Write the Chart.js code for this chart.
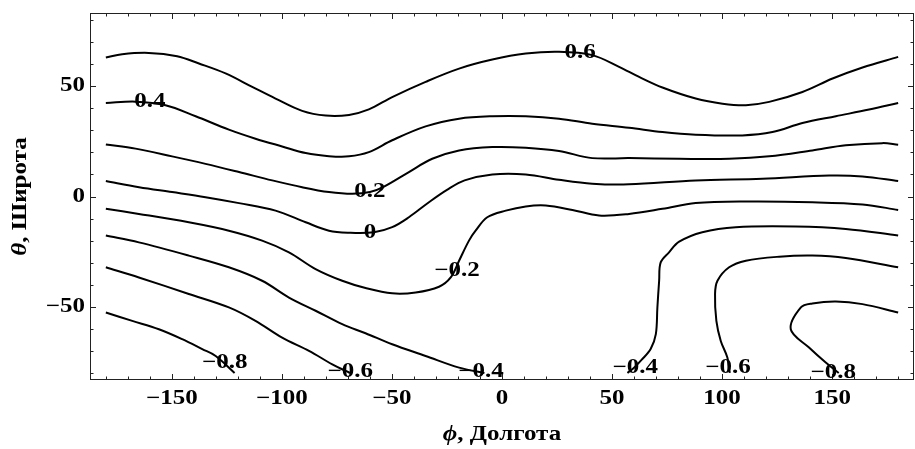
<!DOCTYPE html>
<html>
<head>
<meta charset="utf-8">
<script src="https://cdn.jsdelivr.net/npm/chart.js@4/dist/chart.umd.min.js"></script>
<style>
    html, body { margin: 0; background: #fff; }
    #wrap { width: 915px; height: 449px; }
</style>
</head>
<body>
<div id="wrap"><canvas id="contourChart"></canvas></div>
<script>
// tick values
const xTicks = [-150, -100, -50, 0, 50, 100, 150];
const yTicks = [-50, 0, 50];
const minorStep = 10;

// contour lines [phi, theta]
const level06 = [[-180, 63.0], [-172.6, 64.5], [-160.5, 65.1], [-147.6, 63.6], [-137.7, 60.3], [-125.6, 55.8],
    [-113.5, 49.7], [-102.9, 44.4], [-90.8, 38.8], [-80.1, 36.7], [-69.5, 37.0], [-60.5, 39.5], [-49.9, 45.1],
    [-34.7, 52.0], [-19.5, 58.0], [-4.4, 62.1], [10.8, 64.8], [25.9, 65.6], [41, 64.1], [53.2, 58.8],
    [62.3, 54.2], [72.9, 49.4], [88, 44.4], [100.2, 42.1], [110.8, 41.4], [121.4, 42.9], [136.5, 47.4],
    [150.2, 53.5], [163.8, 58.5], [180, 63.3]];
const level04 = [[-180, 42.4], [-166.5, 43.0], [-152.9, 41.4], [-139.2, 36.4], [-124.1, 30.3], [-112, 26.2],
    [-99.9, 22.7], [-89.2, 19.7], [-78.6, 18.3], [-69.5, 18.2], [-60.5, 20.1], [-49.9, 25.5], [-34.7, 31.8],
    [-19.5, 35.3], [-4.4, 36.4], [10.8, 36.4], [25.9, 35.3], [41, 33.0], [57.7, 31.2], [72.9, 29.2],
    [88, 28.0], [109.2, 27.7], [122.9, 29.2], [136.5, 33.3], [151.7, 36.4], [166.8, 39.4], [180, 42.4]];
const level02 = [[-180, 23.6], [-166.5, 21.7], [-149.9, 18.2], [-134.7, 14.8], [-119.5, 11.1], [-104.4, 7.3],
    [-90.8, 4.2], [-78.6, 2.0], [-68, 1.2], [-60, 2.0], [-53.6, 4.5], [-42.3, 11.1], [-31.7, 17.1],
    [-19.5, 20.9], [-4.4, 22.4], [10.8, 22.1], [25.9, 20.6], [41, 17.4], [57.7, 17.4], [80.5, 17.1],
    [103.2, 17.1], [121.4, 18.2], [141, 20.9], [156.2, 23.2], [172.9, 24.2], [180, 23.5]];
const level00 = [[-180, 7.0], [-164.9, 4.2], [-149.9, 2.0], [-134.7, -0.3], [-119.5, -3.0], [-102.9, -6.4],
    [-89.2, -11.7], [-78.6, -15.5], [-69.5, -16.4], [-58.2, -16.2], [-49.9, -13.9], [-42.3, -9.4],
    [-33.2, -2.6], [-25, 3.0], [-17, 7.3], [-4.4, 10.0], [10.8, 10.0], [25.9, 7.6],
    [41, 5.8], [57.7, 5.5], [88, 7.3], [118.3, 8.0], [148.6, 9.5], [163.8, 9.1], [180, 7.0]];
const levelM02 = [[-180, -5.6], [-165, -7.9], [-142.3, -11.7], [-124.1, -15.5], [-109, -20], [-96.8, -25.3],
    [-84.7, -32.9], [-72.6, -38.2], [-62, -41.5], [-49.9, -43.9], [-39.2, -43.5], [-28.6, -40.9],
    [-23.3, -36.7], [-19.5, -29.1], [-15, -20], [-12, -15.5], [-6.7, -9.4], [1.7, -6.4], [10.8, -4.5],
    [19.9, -4.1], [32, -6.1], [44.1, -8.6], [57.7, -7.9], [72.9, -5.6], [88, -3.0], [110.8, -2.3],
    [141, -2.6], [163.8, -3.6], [180, -6.1]];
const levelM04a = [[-180, -17.7], [-165, -20.8], [-142.3, -26.8], [-124.1, -32.1], [-109, -38.2],
    [-96.8, -45.8], [-84.7, -51.8], [-72.6, -57.9], [-62, -62], [-49.9, -67], [-34.7, -72.3],
    [-19.5, -77.6], [-8, -80]];
const levelM04b = [[57, -80], [60, -77.6], [63.5, -74], [67.6, -69], [69.9, -62.4], [70.6, -50.3],
    [71.4, -38.2], [72.1, -29.9], [75.9, -25.3], [80.5, -20.5], [91, -16.2], [106.2, -13.9],
    [133.5, -13.6], [156.2, -14.7], [180, -17.7]];
const levelM06a = [[-180, -32.1], [-165, -36.7], [-142.3, -44.2], [-124.1, -50.3], [-112, -56.4],
    [-99.9, -64], [-87.7, -70], [-77.1, -76.1], [-71, -79.1], [-69, -80]];
const levelM06b = [[103.5, -80], [102.4, -73], [99.4, -65.5], [97.4, -56.4], [96.8, -44.2], [97.9, -38.2],
    [103.2, -32.1], [110.8, -29.1], [125.9, -27.3], [141, -26.8], [156.2, -27.9], [180, -32.1]];
const levelM08a = [[-180, -52.6], [-168, -56.4], [-155.9, -60.2], [-145.3, -64.7], [-136.2, -69.2],
    [-130.1, -72.3], [-121.5, -80]];
const levelM08b = [[153, -80], [147.1, -75.3], [139.5, -68.5], [131.2, -60.2], [135.8, -50.3], [141, -48.5],
    [151.7, -47.6], [163.8, -48.8], [180, -52.6]];

const contourPieces = [level06, level04, level02, level00, levelM02, levelM04a, levelM04b,
    levelM06a, levelM06b, levelM08a, levelM08b];

// contour labels
const labelTexts = ["0.6", "0.4", "0.2", "0", "\u22120.2", "\u22120.4", "\u22120.4", "\u22120.6", "\u22120.6", "\u22120.8", "\u22120.8"];
const labelPhi = [35.5, -160, -60, -60, -20.5, -9.5, 60.5, -69, 102.7, -126, 150.5];
const labelTheta = [65, 42.7, 2, -16.6, -33.5, -79.6, -77.8, -79.6, -77.7, -75.5, -80];

const FONT = "bold 20px 'Liberation Serif', 'Times New Roman', serif";
const FONT_IT = "italic bold 20px 'Liberation Serif', 'Times New Roman', serif";
const STRETCH = 1.25;

function fmt(v) {
    return v < 0 ? "\u2212" + Math.abs(v) : String(v);
}

function wideText(ctx, text, x, y, align) {
    ctx.save();
    ctx.font = FONT;
    ctx.translate(x, y);
    ctx.scale(STRETCH, 1);
    ctx.textAlign = align;
    ctx.textBaseline = "middle";
    ctx.fillText(text, 0, 0);
    ctx.restore();
}

// italic symbol + bold text, centred on (0,0) of current transform
function axisTitle(ctx, symbol, rest) {
    ctx.font = FONT_IT;
    const w1 = ctx.measureText(symbol).width;
    ctx.font = FONT;
    const w2 = ctx.measureText(rest).width;
    const start = -(w1 + w2) / 2;
    ctx.textAlign = "left";
    ctx.textBaseline = "alphabetic";
    ctx.font = FONT_IT;
    ctx.fillText(symbol, start, 0);
    ctx.font = FONT;
    ctx.fillText(rest, start + w1, 0);
}

const frameTicks = {
    id: "frameTicks",
    beforeDatasetsDraw(chart) {
        const { ctx, chartArea: a, scales: { x, y } } = chart;
        ctx.save();
        ctx.strokeStyle = "#222";
        ctx.lineWidth = 1;
        ctx.strokeRect(a.left + 0.5, a.top + 0.5, a.right - a.left - 1, a.bottom - a.top - 1);

        ctx.beginPath();
        for (let v = -180; v <= 180; v += minorStep) {
            const px = Math.round(x.getPixelForValue(v)) + 0.5;
            const len = v % 50 === 0 ? 6 : 3.5;
            ctx.moveTo(px, a.bottom);
            ctx.lineTo(px, a.bottom - len);
            ctx.moveTo(px, a.top);
            ctx.lineTo(px, a.top + len);
        }
        for (let v = -80; v <= 80; v += minorStep) {
            const py = Math.round(y.getPixelForValue(v)) + 0.5;
            const len = v % 50 === 0 ? 6 : 3.5;
            ctx.moveTo(a.left, py);
            ctx.lineTo(a.left + len, py);
            ctx.moveTo(a.right, py);
            ctx.lineTo(a.right - len, py);
        }
        ctx.stroke();

        ctx.fillStyle = "#000";
        xTicks.forEach(v => wideText(ctx, fmt(v), x.getPixelForValue(v), a.bottom + 19, "center"));
        yTicks.forEach(v => wideText(ctx, fmt(v), a.left - 5, y.getPixelForValue(v), "right"));

        // axis titles
        ctx.save();
        ctx.translate((a.left + a.right) / 2, 440);
        ctx.scale(STRETCH, 1);
        axisTitle(ctx, "\u03d5", ", Долгота");
        ctx.restore();

        ctx.save();
        ctx.translate(26, (a.top + a.bottom) / 2);
        ctx.rotate(-Math.PI / 2);
        ctx.scale(STRETCH, 1);
        axisTitle(ctx, "\u03b8", ", Широта");
        ctx.restore();

        ctx.restore();
    },
    afterDatasetsDraw(chart) {
        const { ctx, scales: { x, y } } = chart;
        ctx.save();
        ctx.fillStyle = "#000";
        labelTexts.forEach((t, i) => {
            wideText(ctx, t, x.getPixelForValue(labelPhi[i]), y.getPixelForValue(labelTheta[i]), "center");
        });
        ctx.restore();
    }
};

new Chart(document.getElementById("contourChart"), {
    type: "scatter",
    data: {
        datasets: contourPieces.map(piece => ({
            data: piece.map(p => ({ x: p[0], y: p[1] })),
            showLine: true,
            borderColor: "#000",
            borderWidth: 2,
            pointRadius: 0,
            tension: 0.35,
            fill: false
        }))
    },
    options: {
        responsive: true,
        maintainAspectRatio: false,
        animation: false,
        layout: { padding: { left: 90, top: 13, right: 1, bottom: 69 } },
        plugins: {
            legend: { display: false },
            tooltip: { enabled: false }
        },
        scales: {
            x: { type: "linear", min: -187.2, max: 187.2, display: false },
            y: { type: "linear", min: -83.2, max: 83.2, display: false }
        }
    },
    plugins: [frameTicks]
});
</script>
</body>
</html>
